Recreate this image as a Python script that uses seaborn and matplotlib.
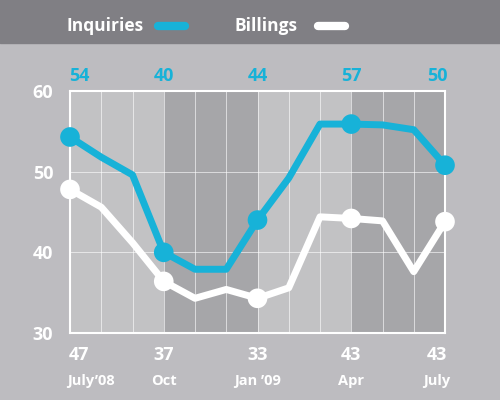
import matplotlib
matplotlib.use("Agg")
import matplotlib.pyplot as plt
import seaborn as sns
import pandas as pd
from matplotlib.patches import Rectangle
from matplotlib.lines import Line2D
from matplotlib.transforms import offset_copy

months = list(range(13))
inquiries = [54.3, 51.8, 49.6, 40.0, 37.9, 37.9, 44.0, 49.2, 55.9, 55.9, 55.8, 55.2, 50.8]
billings = [47.8, 45.6, 41.2, 36.4, 34.3, 35.4, 34.3, 35.6, 44.4, 44.2, 43.9, 37.6, 43.8]
marked = [0, 3, 6, 9, 12]
top_labels = ["54", "40", "44", "57", "50"]
bottom_nums = ["47", "37", "33", "43", "43"]
bottom_months = ["July\u201908", "Oct", "Jan \u201909", "Apr", "July"]

bg = "#bdbcc0"
cyan = "#17b2d8"

df = pd.DataFrame({"month": months, "Inquiries": inquiries, "Billings": billings})
pts = df.iloc[marked]

sns.set_theme(style="white")
plt.rcParams["font.family"] = ["Open Sans", "DejaVu Sans"]

fig = plt.figure(figsize=(5, 4), dpi=100, facecolor=bg)
fig.patches.append(Rectangle((0, 0.8925), 1, 0.11, transform=fig.transFigure,
                             color="#807f84", zorder=0))
ax = fig.add_axes([0.14, 0.1675, 0.75, 0.605])
ax.set_facecolor(bg)

# quarter shading
for i, c in enumerate(["#c2c2c4", "#a6a6a9", "#c2c2c4", "#a6a6a9"]):
    ax.axvspan(3 * i, 3 * i + 3, color=c, lw=0, zorder=0)
for x in months:
    ax.axvline(x, color="white", lw=0.7, alpha=0.6, zorder=1)
for y in [40, 50]:
    ax.axhline(y, color="white", lw=0.7, alpha=0.6, zorder=1)

sns.lineplot(data=df, x="month", y="Billings", ax=ax, color="white", lw=5, zorder=3)
sns.lineplot(data=df, x="month", y="Inquiries", ax=ax, color=cyan, lw=5, zorder=4)
sns.scatterplot(data=pts, x="month", y="Billings", ax=ax, color="white", s=200,
                edgecolor="none", zorder=5)
sns.scatterplot(data=pts, x="month", y="Inquiries", ax=ax, color=cyan, s=200,
                edgecolor="none", zorder=6)
for art in ax.lines + ax.collections:
    art.set_clip_on(False)

ax.set_xlim(0, 12)
ax.set_ylim(30, 60)
ax.set_xlabel("")
ax.set_ylabel("")
ax.set_xticks([])
ax.set_yticks([30, 40, 50, 60])
ax.set_yticklabels(["30", "40", "50", "60"], color="white", fontsize=13, fontweight="bold")
ax.tick_params(axis="y", length=0, pad=12)
for s in ax.spines.values():
    s.set_color("white")
    s.set_linewidth(1.5)

shifts = [9, 0, 0, 0, -8]
trans = ax.get_xaxis_transform()
for m, t, n, lab, dx in zip(marked, top_labels, bottom_nums, bottom_months, shifts):
    tr = offset_copy(trans, fig=fig, x=dx, units="dots")
    ax.text(m, 1.06, t, transform=tr, ha="center", va="center",
            color=cyan, fontsize=13, fontweight="bold")
    ax.text(m, -0.09, n, transform=tr, ha="center", va="center",
            color="white", fontsize=13, fontweight="bold")
    tr2 = offset_copy(trans, fig=fig, x=dx * 2.3 if dx > 0 else dx, units="dots")
    ax.text(m, -0.2, lab, transform=tr2, ha="center", va="center",
            color="white", fontsize=10.5, fontweight="bold")

# legend in top band
fig.text(0.133, 0.936, "Inquiries", color="white", fontsize=12.5, fontweight="bold", va="center")
fig.add_artist(Line2D([0.315, 0.37], [0.936, 0.936], transform=fig.transFigure,
                      color=cyan, lw=6, solid_capstyle="round"))
fig.text(0.47, 0.936, "Billings", color="white", fontsize=12.5, fontweight="bold", va="center")
fig.add_artist(Line2D([0.635, 0.69], [0.936, 0.936], transform=fig.transFigure,
                      color="white", lw=6, solid_capstyle="round"))

fig.savefig("out.png", dpi=100, facecolor=bg)
